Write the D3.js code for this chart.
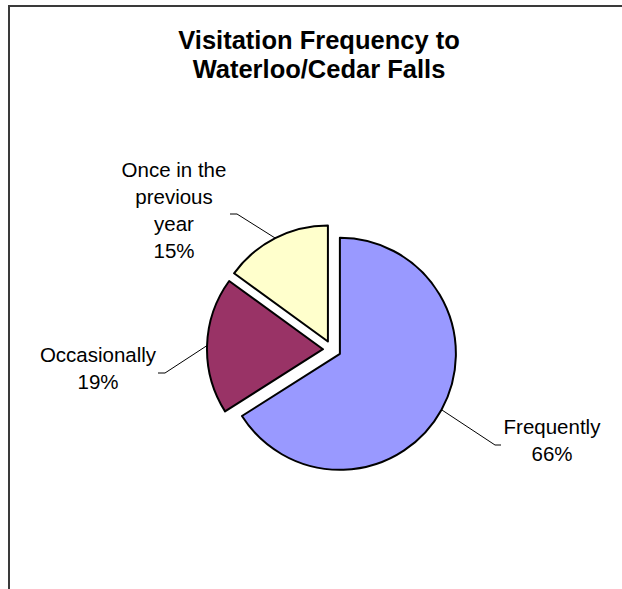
<!DOCTYPE html>
<html>
<head>
<meta charset="utf-8">
<script src="https://cdn.jsdelivr.net/npm/d3@7"></script>
<style>
  html, body { margin: 0; padding: 0; background: #fff; }
  svg { display: block; }
  text { font-family: "Liberation Sans", Arial, sans-serif; fill: #000; }
</style>
</head>
<body>
<svg id="chart" width="622" height="589"></svg>
<script>
// Survey answers, in drawing order (clockwise from 12 o'clock)
const categories = ["Frequently", "Occasionally", "Once in the previous year"];
const shares = [66, 19, 15];
const sliceColors = ["#9999FF", "#993366", "#FFFFCC"];
const titleLines = ["Visitation Frequency to", "Waterloo/Cedar Falls"];

// Label text lines and placement for each slice
const labelLayout = {
  "Frequently":                { lines: ["Frequently"], x: 552, y: 434, elbow: [495, 501] },
  "Occasionally":              { lines: ["Occasionally"], x: 98, y: 362, elbow: [165, 158] },
  "Once in the previous year": { lines: ["Once in the", "previous", "year"], x: 174, y: 177, elbow: [237, 230] }
};

const cx = 332, cy = 349.5;    // pie centre
const radius = 116;
const explode = 9;             // every slice pulled out along its bisector
const lineGap = 27;

const svg = d3.select("#chart");

// Chart frame (continues past the right and bottom edges)
svg.append("rect")
  .attr("x", 9).attr("y", 6)
  .attr("width", 800).attr("height", 800)
  .attr("fill", "none")
  .attr("stroke", "#3a3a3a")
  .attr("stroke-width", 2);

// Title
const title = svg.append("text")
  .attr("text-anchor", "middle")
  .attr("font-weight", "bold")
  .attr("font-size", 25.5);
titleLines.forEach((t, i) => {
  title.append("tspan").attr("x", 319).attr("y", 49 + i * 28.5).text(t);
});

const pie = d3.pie().sort(null).value(d => d.value).startAngle(0).endAngle(2 * Math.PI);
const data = categories.map((c, i) => ({ name: c, value: shares[i], color: sliceColors[i] }));
const arcs = pie(data);

const arc = d3.arc().innerRadius(0).outerRadius(radius);
const total = d3.sum(shares);

const g = svg.append("g").attr("transform", `translate(${cx},${cy})`);

function offset(d) {
  const a = (d.startAngle + d.endAngle) / 2;
  return [Math.sin(a) * explode, -Math.cos(a) * explode];
}

g.selectAll("path.slice")
  .data(arcs)
  .join("path")
  .attr("class", "slice")
  .attr("transform", d => `translate(${offset(d)})`)
  .attr("d", arc)
  .attr("fill", d => d.data.color)
  .attr("stroke", "#000")
  .attr("stroke-width", 2)
  .attr("stroke-linejoin", "round");

// Leader lines: from the slice rim at its bisector to an elbow next to the label
arcs.forEach(d => {
  const lay = labelLayout[d.data.name];
  const a = (d.startAngle + d.endAngle) / 2;
  const [ox, oy] = offset(d);
  const rimX = cx + ox + Math.sin(a) * radius;
  const rimY = cy + oy - Math.cos(a) * radius;
  const nLines = lay.lines.length + 1;
  // elbow sits at mid-height of the label block
  const elbowY = lay.y - 16 + (nLines * lineGap) / 2 + (nLines > 2 ? -1 : 0);
  svg.append("polyline")
    .attr("points", [[rimX, rimY], [lay.elbow[0], elbowY], [lay.elbow[1], elbowY]].map(p => p.join(",")).join(" "))
    .attr("fill", "none")
    .attr("stroke", "#000")
    .attr("stroke-width", 1);

  const t = svg.append("text")
    .attr("text-anchor", "middle")
    .attr("font-size", 20.5);
  const lines = lay.lines.concat([Math.round(d.data.value / total * 100) + "%"]);
  lines.forEach((s, i) => {
    t.append("tspan").attr("x", lay.x).attr("y", lay.y + i * lineGap).text(s);
  });
});
</script>
</body>
</html>
